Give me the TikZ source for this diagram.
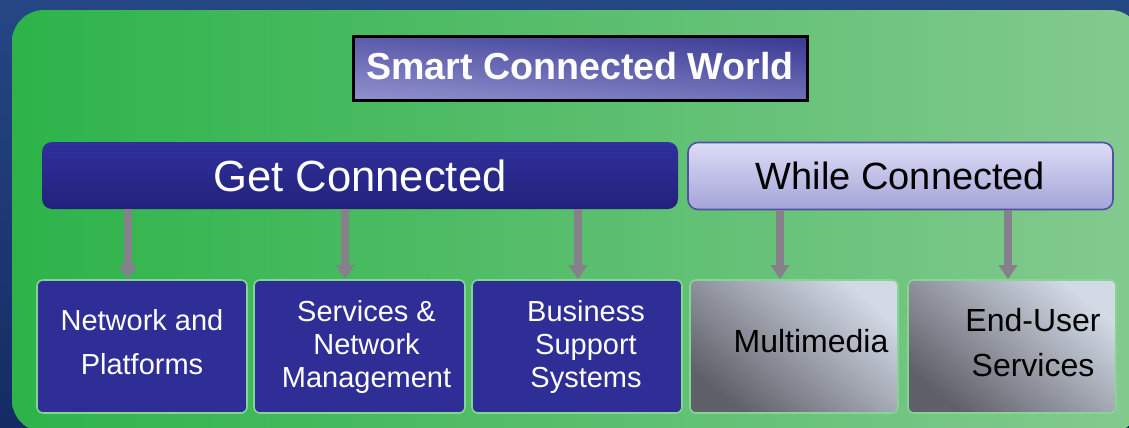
\documentclass[tikz,border=0pt]{standalone}
\usepackage{fontspec}
\setmainfont{Liberation Sans}
\usetikzlibrary{arrows.meta}

\definecolor{bgTop}{HTML}{254784}
\definecolor{bgBottom}{HTML}{142B64}
\definecolor{panelL}{HTML}{2DB34A}
\definecolor{panelM}{HTML}{4DBA60}
\definecolor{panelR}{HTML}{84CA90}
\definecolor{titleDark}{HTML}{3C3C96}
\definecolor{titleMid}{HTML}{6262B0}
\definecolor{titleLight}{HTML}{8E8ECC}
\definecolor{gcBlue}{HTML}{30309C}
\definecolor{gcDark}{HTML}{22227C}
\definecolor{wcTop}{HTML}{DCDCF6}
\definecolor{wcBottom}{HTML}{A4A4D8}
\definecolor{wcEdge}{HTML}{5050A4}
\definecolor{boxBlue}{HTML}{2E2E96}
\definecolor{boxEdge}{HTML}{86D594}
\definecolor{grayDark}{HTML}{606069}
\definecolor{grayLight}{HTML}{D2DAE6}
\definecolor{arrGray}{HTML}{86808A}

\tikzset{
  titlebox/.style={draw=black, line width=1.5pt, top color=titleDark, middle color=titleMid,
    bottom color=titleLight, shading angle=-5, minimum width=227pt, minimum height=32pt,
    text=white, font=\bfseries\fontsize{18.8pt}{20pt}\selectfont},
  bar/.style={rounded corners=5pt, minimum height=33.5pt},
  gcbar/.style={bar, top color=gcBlue, middle color=gcBlue, bottom color=gcDark,
    minimum width=318pt, text=white, font=\fontsize{21.8pt}{24pt}\selectfont},
  wcbar/.style={bar, draw=wcEdge, line width=0.8pt, top color=wcTop, bottom color=wcBottom,
    minimum width=212.5pt, text=black, font=\fontsize{19pt}{22pt}\selectfont},
  box/.style={rounded corners=3pt, draw=boxEdge, line width=0.8pt, minimum height=66.5pt},
  bluebox/.style={box, fill=boxBlue},
  graybox/.style={box, top color=grayLight, bottom color=grayDark, shading angle=-40},
  bluetext/.style={align=center, inner sep=0pt, text=white},
  graytext/.style={align=center, inner sep=0pt, text=black},
  arr/.style={draw=arrGray, line width=4pt, -{Triangle[length=7pt,width=9pt]}},
}

\begin{document}
\begin{tikzpicture}[x=0.5pt, y=-0.5pt]
  \useasboundingbox (0,0) rectangle (1129,428);
  % background and green panel
  \shade[top color=bgTop, bottom color=bgBottom] (0,0) rectangle (1129,428);
  \shade[left color=panelL, middle color=panelM, right color=panelR, rounded corners=16pt]
    (12,10) rectangle (1142,432);

  % title and the two bars
  \node[titlebox] (world) at (580,68) {\raisebox{2pt}{Smart Connected World}};
  \node[gcbar] (get) at (360,175.5) {Get Connected};
  \node[wcbar] (while) at (900.5,176) {While Connected};

  % boxes
  \node[bluebox, minimum width=105pt] (net) at (142,346.5) {};
  \node[bluebox, minimum width=105.5pt] (srv) at (359.5,346.5) {};
  \node[bluebox, minimum width=105pt] (bss) at (577,346.5) {};
  \node[graybox, minimum width=104pt] (mm) at (794,346.5) {};
  \node[graybox, minimum width=104pt] (eus) at (1012,346.5) {};

  \node[bluetext, font=\fontsize{14.5pt}{22pt}\selectfont] (nettext)
    at ([yshift=2pt]net.center) {Network and\\Platforms};
  \node[bluetext, font=\fontsize{14.5pt}{16.5pt}\selectfont] (srvtext)
    at ([xshift=3.5pt]srv.center) {Services \&\\Network\\Management};
  \node[bluetext, font=\fontsize{14.5pt}{16.5pt}\selectfont] (bsstext)
    at ([xshift=4.5pt]bss.center) {Business\\Support\\Systems};
  \node[graytext, font=\fontsize{16pt}{22.5pt}\selectfont] (mmtext)
    at ([xshift=8.5pt,yshift=2.5pt]mm.center) {Multimedia};
  \node[graytext, font=\fontsize{16pt}{22.5pt}\selectfont] (eustext)
    at ([xshift=10.5pt,yshift=2pt]eus.center) {End-User\\Services};

  % arrows
  \coordinate (a1) at ([xshift=-7pt]net.north);
  \coordinate (a2) at ([xshift=-7.25pt]srv.north);
  \coordinate (a3) at ([xshift=0.5pt]bss.north);
  \coordinate (a4) at ([xshift=-7pt]mm.north);
  \coordinate (a5) at ([xshift=-2pt]eus.north);
  \foreach \a in {a1,a2,a3}
    \draw[arr] (get.south -| \a) -- (\a);
  \foreach \a in {a4,a5}
    \draw[arr] (while.south -| \a) -- (\a);
\end{tikzpicture}
\end{document}
